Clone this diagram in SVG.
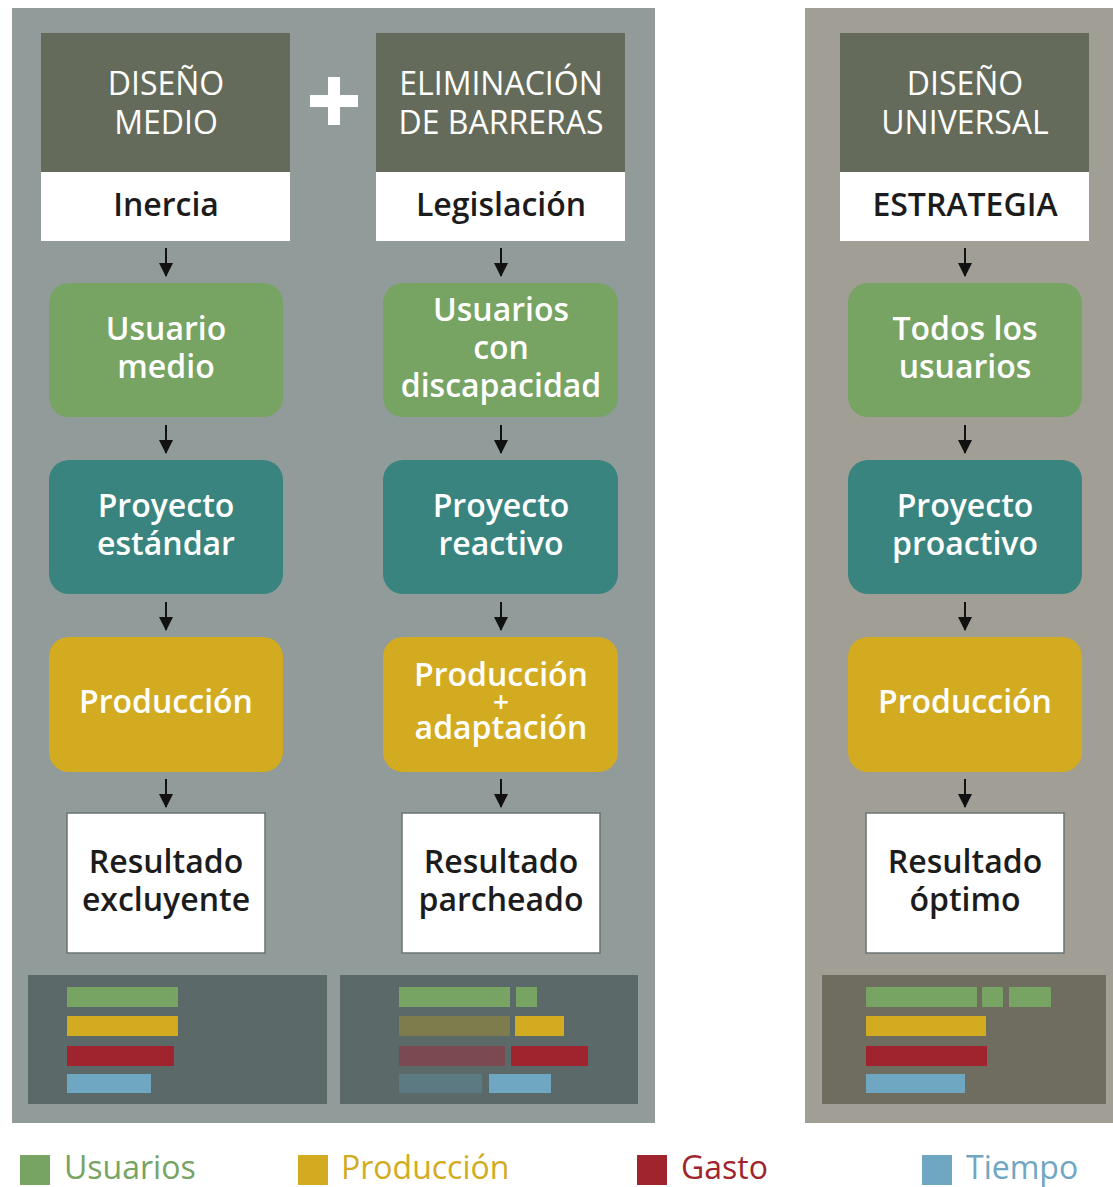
<svg xmlns="http://www.w3.org/2000/svg" width="1113" height="1187" viewBox="0 0 1113 1187">
<defs>
<style>
.t{font-family:"Open Sans","Liberation Sans",sans-serif;text-anchor:middle}
.h{font-size:32px;fill:#ffffff;font-weight:500}
.s{font-size:32px;fill:#1c1c1c;font-weight:600}
.b{font-size:32px;fill:#ffffff;font-weight:600}
.p{font-size:28px;fill:#ffffff;font-weight:600}
.r{font-size:32px;fill:#1c1c1c;font-weight:600}
.g{fill:#77a363}.c{fill:#3a8480}.y{fill:#d3ab21}
.hd{fill:#646b5a}.wh{fill:#ffffff}
.res{fill:#ffffff;stroke:#6a7473;stroke-width:1.5}
.lg{font-family:"Open Sans","Liberation Sans",sans-serif;font-size:32px;font-weight:400}
.ar{stroke:#111;stroke-width:2}
</style>
<marker id="ah" viewBox="0 0 14 14" refX="13" refY="7" markerWidth="14" markerHeight="14" markerUnits="userSpaceOnUse" orient="auto">
<path d="M0,0 L14,7 L0,14 Z" fill="#111"/>
</marker>
</defs>
<rect width="1113" height="1187" fill="#ffffff"/>
<g id="panel-left"><rect x="12" y="8" width="643" height="1115" fill="#919b9a"/></g>
<g id="panel-right"><rect x="805" y="8" width="316" height="1115" fill="#a19f95"/></g>

<g id="plus"><rect x="310" y="95" width="48" height="12" fill="#ffffff"/><rect x="328" y="77" width="12" height="48" fill="#ffffff"/></g>

<g id="h1">
<rect class="hd" x="41" y="33" width="249" height="139"/>
<rect class="wh" x="41" y="172" width="249" height="69"/>
<text class="t h" x="166" y="95">DISEÑO</text>
<text class="t h" x="166" y="134">MEDIO</text>
<text class="t s" x="166" y="216">Inercia</text>
</g>
<g id="h2">
<rect class="hd" x="376" y="33" width="249" height="139"/>
<rect class="wh" x="376" y="172" width="249" height="69"/>
<text class="t h" x="501" y="95">ELIMINACIÓN</text>
<text class="t h" x="501" y="134">DE BARRERAS</text>
<text class="t s" x="501" y="216">Legislación</text>
</g>
<g id="h3">
<rect class="hd" x="840" y="33" width="249" height="139"/>
<rect class="wh" x="840" y="172" width="249" height="69"/>
<text class="t h" x="965" y="95">DISEÑO</text>
<text class="t h" x="965" y="134">UNIVERSAL</text>
<text class="t s" x="965" y="216">ESTRATEGIA</text>
</g>

<g id="u1"><rect class="g" x="49" y="283" width="234" height="134" rx="20"/>
<text class="t b" x="166" y="340">Usuario</text><text class="t b" x="166" y="378">medio</text></g>
<g id="u2"><rect class="g" x="383" y="283" width="235" height="134" rx="20"/>
<text class="t b" x="501" y="321">Usuarios</text><text class="t b" x="501" y="359">con</text><text class="t b" x="501" y="397">discapacidad</text></g>
<g id="u3"><rect class="g" x="848" y="283" width="234" height="134" rx="20"/>
<text class="t b" x="965" y="340">Todos los</text><text class="t b" x="965" y="378">usuarios</text></g>

<g id="p1"><rect class="c" x="49" y="460" width="234" height="134" rx="20"/>
<text class="t b" x="166" y="517">Proyecto</text><text class="t b" x="166" y="555">estándar</text></g>
<g id="p2"><rect class="c" x="383" y="460" width="235" height="134" rx="20"/>
<text class="t b" x="501" y="517">Proyecto</text><text class="t b" x="501" y="555">reactivo</text></g>
<g id="p3"><rect class="c" x="848" y="460" width="234" height="134" rx="20"/>
<text class="t b" x="965" y="517">Proyecto</text><text class="t b" x="965" y="555">proactivo</text></g>

<g id="y1"><rect class="y" x="49" y="637" width="234" height="135" rx="20"/>
<text class="t b" x="166" y="713">Producción</text></g>
<g id="y2"><rect class="y" x="383" y="637" width="235" height="135" rx="20"/>
<text class="t b" x="501" y="686">Producción</text><text class="t p" x="501" y="712">+</text><text class="t b" x="501" y="739">adaptación</text></g>
<g id="y3"><rect class="y" x="848" y="637" width="234" height="135" rx="20"/>
<text class="t b" x="965" y="713">Producción</text></g>

<g id="r1"><rect class="res" x="67" y="813" width="198" height="140"/>
<text class="t r" x="166" y="873">Resultado</text><text class="t r" x="166" y="911">excluyente</text></g>
<g id="r2"><rect class="res" x="402" y="813" width="198" height="140"/>
<text class="t r" x="501" y="873">Resultado</text><text class="t r" x="501" y="911">parcheado</text></g>
<g id="r3"><rect class="res" x="866" y="813" width="198" height="140"/>
<text class="t r" x="965" y="873">Resultado</text><text class="t r" x="965" y="911">óptimo</text></g>

<g id="connectors">
<line class="ar" x1="166" y1="248" x2="166" y2="276" marker-end="url(#ah)"/>
<line class="ar" x1="501" y1="248" x2="501" y2="276" marker-end="url(#ah)"/>
<line class="ar" x1="965" y1="248" x2="965" y2="276" marker-end="url(#ah)"/>
<line class="ar" x1="166" y1="425" x2="166" y2="453" marker-end="url(#ah)"/>
<line class="ar" x1="501" y1="425" x2="501" y2="453" marker-end="url(#ah)"/>
<line class="ar" x1="965" y1="425" x2="965" y2="453" marker-end="url(#ah)"/>
<line class="ar" x1="166" y1="602" x2="166" y2="630" marker-end="url(#ah)"/>
<line class="ar" x1="501" y1="602" x2="501" y2="630" marker-end="url(#ah)"/>
<line class="ar" x1="965" y1="602" x2="965" y2="630" marker-end="url(#ah)"/>
<line class="ar" x1="166" y1="779" x2="166" y2="807" marker-end="url(#ah)"/>
<line class="ar" x1="501" y1="779" x2="501" y2="807" marker-end="url(#ah)"/>
<line class="ar" x1="965" y1="779" x2="965" y2="807" marker-end="url(#ah)"/>
</g>

<g id="chart1">
<rect x="28" y="975" width="299" height="129" fill="#5b6968"/>
<rect x="67" y="987" width="111" height="20" fill="#77a363"/>
<rect x="67" y="1016" width="111" height="20" fill="#d3ab21"/>
<rect x="67" y="1046" width="107" height="20" fill="#a0242d"/>
<rect x="67" y="1074" width="84" height="19" fill="#6fa6c1"/>
</g>
<g id="chart2">
<rect x="340" y="975" width="298" height="129" fill="#5b6968"/>
<rect x="399" y="987" width="111" height="20" fill="#77a363"/>
<rect x="516" y="987" width="21" height="20" fill="#77a363"/>
<rect x="399" y="1016" width="111" height="20" fill="#7e7c4d"/>
<rect x="515" y="1016" width="49" height="20" fill="#d3ab21"/>
<rect x="399" y="1046" width="106" height="20" fill="#7b4a50"/>
<rect x="511" y="1046" width="77" height="20" fill="#a0242d"/>
<rect x="399" y="1074" width="83" height="19" fill="#5b7a82"/>
<rect x="489" y="1074" width="62" height="19" fill="#6fa6c1"/>
</g>
<g id="chart3">
<rect x="822" y="975" width="284" height="129" fill="#6f6d5f"/>
<rect x="866" y="987" width="111" height="20" fill="#77a363"/>
<rect x="982" y="987" width="21" height="20" fill="#77a363"/>
<rect x="1009" y="987" width="42" height="20" fill="#77a363"/>
<rect x="866" y="1016" width="120" height="20" fill="#d3ab21"/>
<rect x="866" y="1046" width="121" height="20" fill="#a0242d"/>
<rect x="866" y="1074" width="99" height="19" fill="#6fa6c1"/>
</g>

<g id="legend">
<rect x="20" y="1155" width="30" height="30" fill="#77a363"/>
<text class="lg" x="64" y="1179" fill="#77a363">Usuarios</text>
<rect x="298" y="1155" width="30" height="30" fill="#d3ab21"/>
<text class="lg" x="341" y="1179" fill="#d3ab21">Producción</text>
<rect x="637" y="1155" width="30" height="30" fill="#a0242d"/>
<text class="lg" x="681" y="1179" fill="#a0242d">Gasto</text>
<rect x="922" y="1155" width="30" height="30" fill="#6fa6c1"/>
<text class="lg" x="966" y="1179" fill="#6fa6c1">Tiempo</text>
</g>
</svg>
